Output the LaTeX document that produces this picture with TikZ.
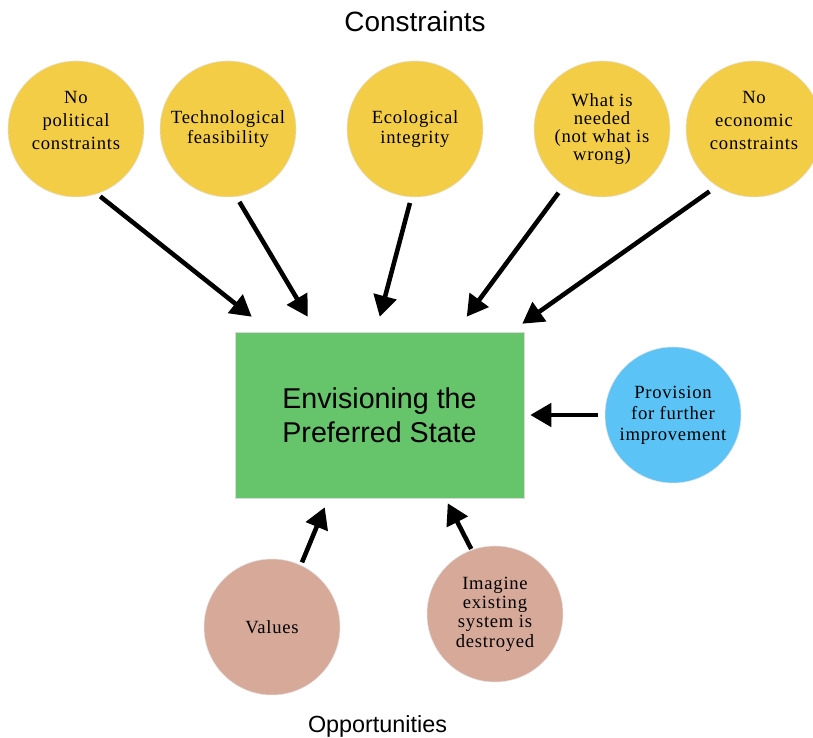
\documentclass[tikz,border=0pt]{standalone}
\usepackage{fontspec}
\setmainfont{Liberation Serif}
\newfontfamily\labelfont{Liberation Sans}
\newfontfamily\bubblefont[LetterSpace=4]{Liberation Serif}
\usepackage{tikz}
\usetikzlibrary{positioning, arrows.meta}
\definecolor{constraintyellow}{RGB}{244,205,71}
\definecolor{stategreen}{RGB}{102,196,106}
\definecolor{improveblue}{RGB}{91,195,245}
\definecolor{opportunitypink}{RGB}{214,169,153}

\begin{document}
\begin{tikzpicture}[
  bubble/.style={circle, minimum size=2.72cm, inner sep=0pt, align=center, draw=black!12, line width=0.3pt, font=\bubblefont\fontsize{10.6}{13}\selectfont},
  push/.style={line width=2.6pt, -{Triangle[length=0.42cm, width=0.46cm]}},
]
\useasboundingbox (0,0) rectangle (16.26,14.76);
\node[anchor=base, font=\labelfont\fontsize{15.9}{19}\selectfont] (constraints) at (8.30,14.12) {Constraints};
\node[anchor=base, font=\labelfont\fontsize{13.3}{16}\selectfont] (opportunities) at (7.55,0.10) {Opportunities};
\node[bubble, fill=constraintyellow] (pol) at (1.52,12.18) {No\\political\\constraints\\[-3pt]\mbox{}};
\node[bubble, fill=constraintyellow, font=\bubblefont\fontsize{10.6}{11.5}\selectfont] (tech) at (4.56,12.18) {Technological\\feasibility};
\node[bubble, fill=constraintyellow, font=\bubblefont\fontsize{10.6}{11.5}\selectfont] (eco) at (8.30,12.18) {Ecological\\integrity};
\node[bubble, fill=constraintyellow, font=\bubblefont\fontsize{10.6}{10.3}\selectfont] (need) at (12.04,12.18) {What is\\needed\\(not what is\\wrong)};
\node[bubble, fill=constraintyellow] (econ) at (15.08,12.18) {No\\economic\\constraints\\[-3pt]\mbox{}};
\node[fill=stategreen, draw=black!15, line width=0.3pt, minimum width=5.78cm, minimum height=3.32cm, align=center, font=\labelfont\fontsize{16.3}{19.3}\selectfont] (state) at (7.59,6.46) {Envisioning the\\Preferred State};
\node[bubble, fill=improveblue, font=\bubblefont\fontsize{10.6}{12}\selectfont] (improve) at (13.46,6.46) {Provision\\for further\\improvement};
\node[bubble, fill=opportunitypink] (values) at (5.44,2.22) {Values};
\node[bubble, fill=opportunitypink, font=\bubblefont\fontsize{10.6}{11}\selectfont] (imagine) at (9.90,2.48) {Imagine\\existing\\system is\\destroyed};
\draw[push, shorten <=0.08cm] (pol.-72) -- ([xshift=0.34cm,yshift=0.30cm]state.north west);
\draw[push, shorten <=0.12cm] (tech.-83) -- ([xshift=1.46cm,yshift=0.30cm]state.north west);
\draw[push, shorten <=0.12cm] (eco.-93) -- ([xshift=2.90cm,yshift=0.30cm]state.north west);
\draw[push, shorten <=0.18cm] (need.-124) -- ([xshift=4.64cm,yshift=0.30cm]state.north west);
\draw[push, shorten <=0.18cm] (econ.-123) -- ([xshift=-0.04cm,yshift=0.16cm]state.north east);
\draw[push, shorten <=0.14cm, shorten >=0.12cm] (improve.west) -- (state.east);
\draw[push, shorten <=0.06cm] (values.65) -- ([xshift=1.80cm,yshift=-0.18cm]state.south west);
\draw[push, shorten <=0.02cm] (imagine.110) -- ([xshift=4.26cm,yshift=-0.10cm]state.south west);
\end{tikzpicture}
\end{document}
